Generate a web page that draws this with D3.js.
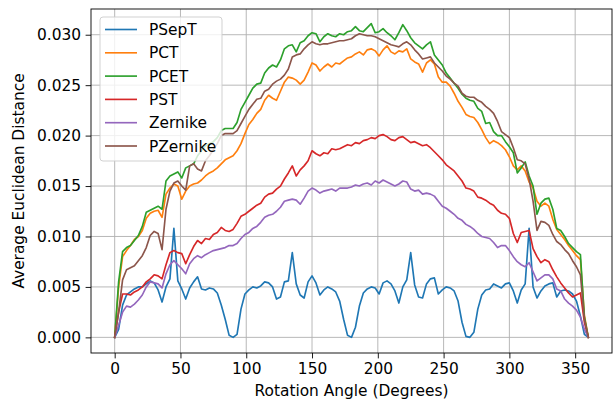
<!DOCTYPE html>
<html>
<head>
<meta charset="utf-8">
<script src="https://cdn.jsdelivr.net/npm/d3@7"></script>
<style>
  body { margin: 0; background: #fff; }
  svg { font-family: "DejaVu Sans", sans-serif; }
</style>
</head>
<body>
<div id="chart"></div>
<script>
// rotation angles, every 3 degrees
var angles = d3.range(0, 361, 3);

var pseptT = [0,0.0008,0.0032,0.0042,0.0045,0.0048,0.0050,0.0050,0.0053,0.0056,0.0054,0.0047,0.0035,0.0050,0.0058,0.0108,0.0056,0.0048,0.0038,0.0049,
  0.0055,0.0060,0.0048,0.0047,0.0049,0.0048,0.0044,0.0032,0.0018,0.0002,0,0.0003,0.0028,0.0043,0.0047,0.0050,0.0049,0.0051,0.0055,0.0054,
  0.0050,0.0038,0.0040,0.0055,0.0056,0.0084,0.0053,0.0042,0.0039,0.0055,0.0061,0.0054,0.0042,0.0047,0.0050,0.0048,0.0045,0.0036,0.0018,0.0002,
  0,0.0010,0.0031,0.0044,0.0048,0.0050,0.0049,0.0043,0.0054,0.0056,0.0053,0.0046,0.0034,0.0050,0.0057,0.0084,0.0052,0.0040,0.0039,0.0053,
  0.0058,0.0059,0.0043,0.0047,0.0050,0.0049,0.0046,0.0036,0.0015,0.0001,0,0.0005,0.0028,0.0042,0.0047,0.0048,0.0053,0.0051,0.0049,0.0053,
  0.0054,0.0046,0.0034,0.0047,0.0053,0.0108,0.0050,0.0039,0.0046,0.0051,0.0053,0.0054,0.0040,0.0046,0.0047,0.0046,0.0043,0.0036,0.0021,0.0003,0];

var pct = [0,0.0050,0.0080,0.0086,0.0091,0.0097,0.0100,0.0106,0.0118,0.0123,0.0125,0.0126,0.0119,0.0142,0.0148,0.0152,0.0150,0.0137,0.0145,0.0150,
  0.0152,0.0153,0.0156,0.0160,0.0163,0.0165,0.0168,0.0172,0.0176,0.0178,0.0180,0.0185,0.0192,0.0202,0.0211,0.0216,0.0222,0.0226,0.0235,0.0240,
  0.0237,0.0235,0.0244,0.0253,0.0258,0.0257,0.0255,0.0251,0.0255,0.0263,0.0272,0.0270,0.0264,0.0268,0.0271,0.0268,0.0272,0.0271,0.0274,0.0277,
  0.0278,0.0281,0.0283,0.0280,0.0285,0.0286,0.0284,0.0279,0.0285,0.0289,0.0283,0.0281,0.0284,0.0283,0.0286,0.0276,0.0273,0.0271,0.0263,0.0272,
  0.0275,0.0271,0.0258,0.0253,0.0253,0.0249,0.0242,0.0234,0.0228,0.0221,0.0219,0.0218,0.0213,0.0206,0.0198,0.0192,0.0195,0.0193,0.0190,0.0186,
  0.0179,0.0170,0.0166,0.0170,0.0165,0.0154,0.0148,0.0135,0.0130,0.0133,0.0130,0.0117,0.0107,0.0102,0.0097,0.0091,0.0086,0.0081,0.0077,0.0022,0];

var pcet = [0,0.0055,0.0085,0.0089,0.0091,0.0096,0.0101,0.0110,0.0124,0.0126,0.0128,0.0130,0.0127,0.0155,0.0160,0.0162,0.0164,0.0158,0.0168,0.0170,
  0.0172,0.0180,0.0185,0.0190,0.0192,0.0194,0.0198,0.0205,0.0207,0.0207,0.0207,0.0213,0.0226,0.0233,0.0240,0.0247,0.0251,0.0252,0.0262,0.0267,
  0.0270,0.0268,0.0275,0.0286,0.0289,0.0290,0.0283,0.0292,0.0294,0.0299,0.0302,0.0301,0.0293,0.0298,0.0301,0.0299,0.0298,0.0301,0.0300,0.0303,
  0.0304,0.0308,0.0304,0.0303,0.0307,0.0311,0.0302,0.0303,0.0306,0.0302,0.0299,0.0295,0.0302,0.0310,0.0304,0.0297,0.0292,0.0289,0.0286,0.0290,
  0.0293,0.0280,0.0275,0.0270,0.0262,0.0257,0.0252,0.0247,0.0241,0.0237,0.0235,0.0234,0.0227,0.0224,0.0212,0.0213,0.0204,0.0200,0.0200,0.0194,
  0.0189,0.0183,0.0163,0.0168,0.0174,0.0160,0.0150,0.0122,0.0133,0.0137,0.0138,0.0127,0.0108,0.0106,0.0100,0.0093,0.0089,0.0085,0.0082,0.0020,0];

var pst = [0,0.0025,0.0043,0.0043,0.0042,0.0045,0.0047,0.0050,0.0055,0.0058,0.0062,0.0061,0.0058,0.0072,0.0084,0.0086,0.0084,0.0083,0.0073,0.0082,
  0.0090,0.0096,0.0093,0.0098,0.0097,0.0102,0.0104,0.0109,0.0106,0.0105,0.0107,0.0113,0.0120,0.0122,0.0125,0.0128,0.0131,0.0133,0.0139,0.0142,
  0.0143,0.0147,0.0150,0.0157,0.0163,0.0170,0.0160,0.0166,0.0170,0.0175,0.0185,0.0182,0.0180,0.0183,0.0182,0.0187,0.0186,0.0187,0.0189,0.0191,
  0.0190,0.0193,0.0192,0.0195,0.0196,0.0198,0.0197,0.0200,0.0201,0.0199,0.0196,0.0195,0.0198,0.0199,0.0196,0.0193,0.0194,0.0192,0.0190,0.0191,
  0.0188,0.0184,0.0180,0.0176,0.0171,0.0168,0.0165,0.0160,0.0155,0.0148,0.0147,0.0145,0.0139,0.0138,0.0136,0.0133,0.0131,0.0126,0.0123,0.0122,
  0.0118,0.0103,0.0094,0.0104,0.0105,0.0106,0.0088,0.0080,0.0074,0.0077,0.0075,0.0067,0.0060,0.0054,0.0049,0.0044,0.0040,0.0042,0.0044,0.0015,0];

var zernike = [0,0.0012,0.0025,0.0031,0.0030,0.0033,0.0037,0.0042,0.0050,0.0055,0.0054,0.0053,0.0049,0.0063,0.0072,0.0076,0.0072,0.0068,0.0063,0.0073,
  0.0078,0.0081,0.0079,0.0082,0.0084,0.0086,0.0087,0.0088,0.0089,0.0091,0.0091,0.0093,0.0098,0.0102,0.0104,0.0108,0.0110,0.0114,0.0119,0.0121,
  0.0122,0.0125,0.0129,0.0135,0.0136,0.0137,0.0136,0.0132,0.0138,0.0145,0.0148,0.0146,0.0143,0.0145,0.0146,0.0147,0.0145,0.0148,0.0148,0.0148,
  0.0149,0.0151,0.0150,0.0152,0.0153,0.0151,0.0155,0.0153,0.0156,0.0154,0.0152,0.0150,0.0152,0.0155,0.0154,0.0147,0.0145,0.0146,0.0142,0.0143,
  0.0142,0.0140,0.0135,0.0130,0.0128,0.0125,0.0122,0.0118,0.0116,0.0112,0.0110,0.0107,0.0103,0.0100,0.0099,0.0098,0.0094,0.0089,0.0091,0.0091,
  0.0086,0.0080,0.0075,0.0072,0.0070,0.0074,0.0065,0.0056,0.0059,0.0062,0.0062,0.0058,0.0048,0.0046,0.0038,0.0034,0.0031,0.0027,0.0020,0.0008,0];

var pzernike = [0,0.0025,0.0057,0.0067,0.0069,0.0071,0.0076,0.0081,0.0089,0.0101,0.0105,0.0103,0.0087,0.0127,0.0145,0.0153,0.0155,0.0150,0.0146,0.0170,
  0.0172,0.0167,0.0165,0.0175,0.0180,0.0186,0.0192,0.0200,0.0202,0.0202,0.0202,0.0205,0.0212,0.0219,0.0226,0.0231,0.0236,0.0237,0.0244,0.0246,
  0.0251,0.0254,0.0256,0.0260,0.0266,0.0278,0.0280,0.0281,0.0286,0.0290,0.0293,0.0291,0.0290,0.0291,0.0291,0.0292,0.0293,0.0294,0.0294,0.0295,
  0.0296,0.0299,0.0301,0.0300,0.0299,0.0299,0.0298,0.0296,0.0294,0.0292,0.0290,0.0289,0.0288,0.0291,0.0293,0.0290,0.0285,0.0281,0.0276,0.0277,
  0.0278,0.0272,0.0268,0.0264,0.0259,0.0256,0.0252,0.0249,0.0242,0.0239,0.0238,0.0238,0.0235,0.0233,0.0229,0.0226,0.0222,0.0214,0.0204,0.0201,
  0.0198,0.0188,0.0176,0.0175,0.0172,0.0157,0.0135,0.0106,0.0115,0.0114,0.0111,0.0102,0.0095,0.0092,0.0087,0.0083,0.0076,0.0070,0.0062,0.0018,0];

var seriesNames = ["PSepT", "PCT", "PCET", "PST", "Zernike", "PZernike"];
var seriesValues = [pseptT, pct, pcet, pst, zernike, pzernike];
var seriesColors = ["#1f77b4", "#ff7f0e", "#2ca02c", "#d62728", "#9467bd", "#8c564b"];

var xTicks = [0, 50, 100, 150, 200, 250, 300, 350];
var yTicks = [0, 0.005, 0.010, 0.015, 0.020, 0.025, 0.030];

var w = 613;
var h = 400;
var margin = { top: 9, right: 1, bottom: 47, left: 91 };
var width = w - margin.left - margin.right;
var height = h - margin.top - margin.bottom;
var fontSize = "15.4px";

var svg = d3.select("#chart")
  .append("svg")
  .attr("width", w)
  .attr("height", h)
  .append("g")
  .attr("transform", "translate(" + margin.left + "," + margin.top + ")");

var x = d3.scaleLinear().domain([-18, 378]).range([0, width]);
var y = d3.scaleLinear().domain([-0.00155, 0.03255]).range([height, 0]);

// grid
svg.append("g")
  .selectAll("line.vg")
  .data(xTicks)
  .enter()
  .append("line")
  .attr("x1", function(d){ return x(d); })
  .attr("x2", function(d){ return x(d); })
  .attr("y1", 0)
  .attr("y2", height)
  .attr("stroke", "#b0b0b0")
  .attr("stroke-width", 0.9);

svg.append("g")
  .selectAll("line.hg")
  .data(yTicks)
  .enter()
  .append("line")
  .attr("x1", 0)
  .attr("x2", width)
  .attr("y1", function(d){ return y(d); })
  .attr("y2", function(d){ return y(d); })
  .attr("stroke", "#b0b0b0")
  .attr("stroke-width", 0.9);

// lines
var line = d3.line()
  .x(function(d, i){ return x(angles[i]); })
  .y(function(d){ return y(d); });

for (var s = 0; s < seriesValues.length; s++) {
  svg.append("path")
    .datum(seriesValues[s])
    .attr("d", line)
    .attr("fill", "none")
    .attr("stroke", seriesColors[s])
    .attr("stroke-width", 1.65)
    .attr("stroke-linejoin", "round")
    .attr("stroke-linecap", "square");
}

// axes
var xAxis = svg.append("g")
  .attr("transform", "translate(0," + height + ")")
  .call(d3.axisBottom(x).tickValues(xTicks).tickSize(5.4).tickPadding(4.5).tickSizeOuter(0));

var yAxis = svg.append("g")
  .call(d3.axisLeft(y).tickValues(yTicks).tickFormat(d3.format(".3f")).tickSize(5.4).tickPadding(4.5).tickSizeOuter(0));

[xAxis, yAxis].forEach(function(a){
  a.select(".domain").remove();
  a.selectAll(".tick line").attr("stroke", "#000").attr("stroke-width", 0.9);
  a.selectAll(".tick text").attr("fill", "#000").style("font-size", fontSize).style("font-family", "DejaVu Sans");
});

// spines
svg.append("rect")
  .attr("x", 0)
  .attr("y", 0)
  .attr("width", width)
  .attr("height", height)
  .attr("fill", "none")
  .attr("stroke", "#000")
  .attr("stroke-width", 0.9);

// axis labels
svg.append("text")
  .attr("x", width / 2)
  .attr("y", height + 43)
  .attr("text-anchor", "middle")
  .style("font-size", fontSize)
  .text("Rotation Angle (Degrees)");

svg.append("text")
  .attr("transform", "translate(" + (24 - margin.left) + "," + (height / 2) + ") rotate(-90)")
  .attr("text-anchor", "middle")
  .style("font-size", fontSize)
  .text("Average Euclidean Distance");

// legend
var legend = svg.append("g").attr("transform", "translate(9,8)");

legend.append("rect")
  .attr("x", 0)
  .attr("y", 0)
  .attr("width", 122)
  .attr("height", 144)
  .attr("rx", 3)
  .attr("fill", "#fff")
  .attr("fill-opacity", 0.8)
  .attr("stroke", "#cccccc")
  .attr("stroke-width", 0.9);

var items = legend.selectAll("g.item")
  .data(seriesNames)
  .enter()
  .append("g")
  .attr("transform", function(d, i){ return "translate(0," + (12.5 + i * 23.3) + ")"; });

items.append("line")
  .attr("x1", 5)
  .attr("x2", 37)
  .attr("y1", 0)
  .attr("y2", 0)
  .attr("stroke", function(d, i){ return seriesColors[i]; })
  .attr("stroke-width", 1.65);

items.append("text")
  .attr("x", 49)
  .attr("y", 5.5)
  .style("font-size", fontSize)
  .text(function(d){ return d; });
</script>
</body>
</html>
